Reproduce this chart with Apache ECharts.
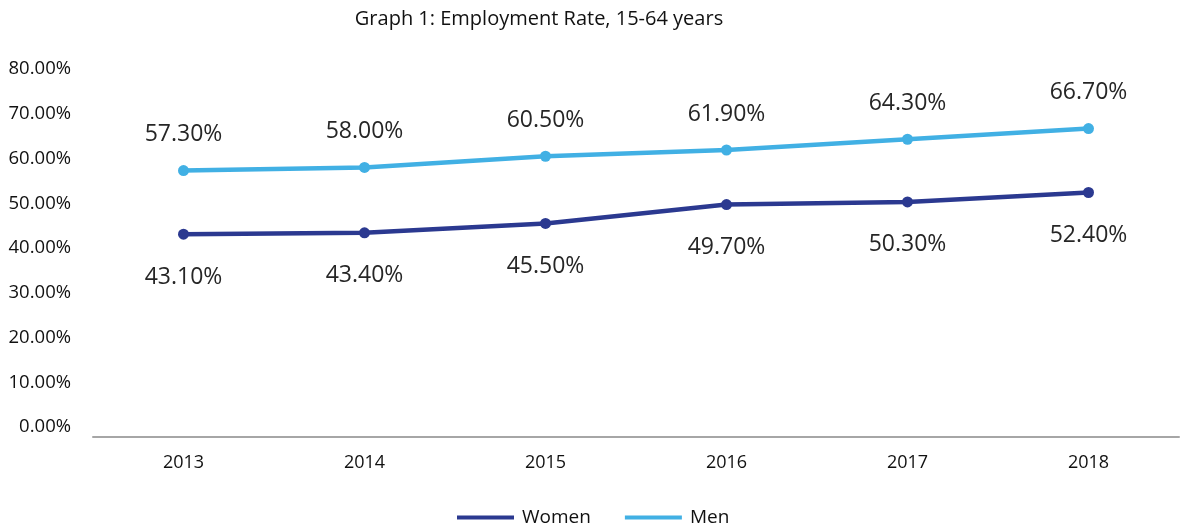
<!DOCTYPE html>
<html>
<head>
<meta charset="utf-8">
<script src="https://cdn.jsdelivr.net/npm/echarts@6/dist/echarts.min.js"></script>
<style>html,body{margin:0;padding:0;background:#fff}#c{width:1180px;height:532px}</style>
</head>
<body>
<div id="c"></div>
<script>
var categories = ['2013', '2014', '2015', '2016', '2017', '2018'];
var women = [43.1, 43.4, 45.5, 49.7, 50.3, 52.4];
var men = [57.3, 58.0, 60.5, 61.9, 64.3, 66.7];
var titleText = 'Graph 1: Employment Rate, 15-64 years';
var seriesNames = ['Women', 'Men'];

var FONT = '"Open Sans", "Noto Sans", sans-serif';
var chart = echarts.init(document.getElementById('c'), null, {renderer: 'canvas'});
function pct(v) { return v.toFixed(2) + '%'; }
chart.setOption({
  animation: false,
  backgroundColor: '#ffffff',
  title: {
    text: titleText,
    left: 534, top: 4, textAlign: 'center',
    textStyle: {fontFamily: FONT, fontSize: 20, fontWeight: 'normal', color: '#111111'}
  },
  legend: {
    data: seriesNames,
    left: 457, top: 508, padding: 0,
    itemWidth: 57, itemHeight: 4, itemGap: 34,
    icon: 'rect',
    textStyle: {fontFamily: FONT, fontSize: 19, color: '#111111', padding: [0, 0, 0, 3]}
  },
  grid: {left: 93, right: 1, top: 69, bottom: 105, containLabel: false},
  xAxis: {
    type: 'category',
    data: categories,
    boundaryGap: true,
    offset: 10,
    axisLine: {onZero: false, lineStyle: {color: '#a6a6a6', width: 2}},
    axisTick: {show: false},
    axisLabel: {fontFamily: FONT, fontSize: 18, color: '#111111', margin: 17}
  },
  yAxis: {
    type: 'value',
    min: 0, max: 80, interval: 10,
    axisLine: {show: false},
    axisTick: {show: false},
    splitLine: {show: false},
    axisLabel: {
      fontFamily: FONT, fontSize: 18.5, color: '#111111', margin: 22,
      formatter: function (v) { return pct(v); }
    }
  },
  series: [
    {
      name: seriesNames[0], type: 'line', data: women,
      symbol: 'circle', symbolSize: 11,
      lineStyle: {color: '#2b3990', width: 4.5},
      itemStyle: {color: '#2b3990'},
      label: {show: true, position: 'bottom', distance: 26,
        fontFamily: FONT, fontSize: 23, color: '#262626',
        formatter: function (p) { return pct(p.value); }}
    },
    {
      name: seriesNames[1], type: 'line', data: men,
      symbol: 'circle', symbolSize: 11,
      lineStyle: {color: '#41b0e4', width: 4.5},
      itemStyle: {color: '#41b0e4'},
      label: {show: true, position: 'top', distance: 19,
        fontFamily: FONT, fontSize: 23, color: '#262626',
        formatter: function (p) { return pct(p.value); }}
    }
  ]
});
</script>
</body>
</html>
